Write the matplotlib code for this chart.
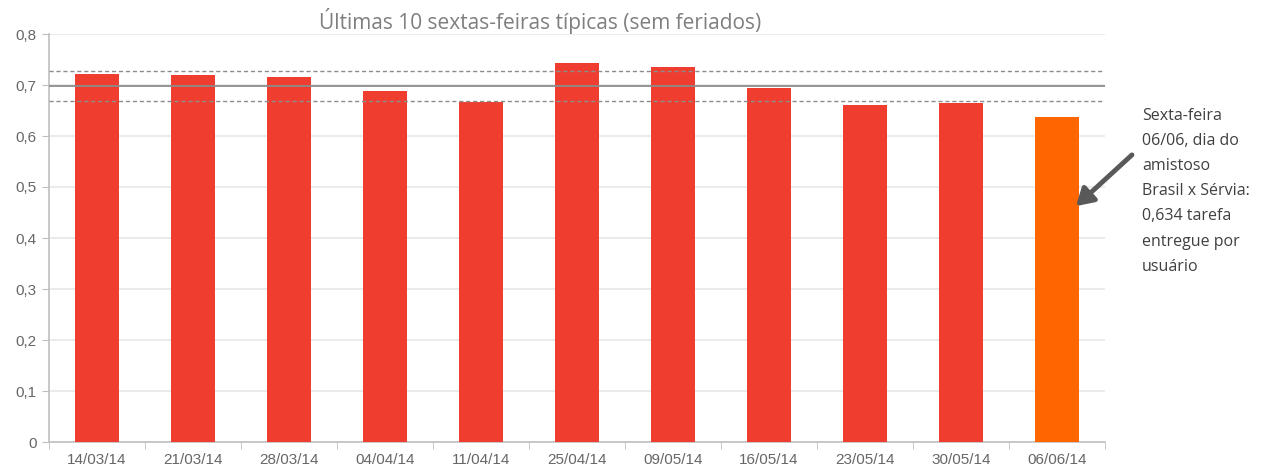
import numpy as np
import matplotlib.pyplot as plt

# Data
datas = ['14/03/14', '21/03/14', '28/03/14', '04/04/14', '11/04/14',
         '25/04/14', '09/05/14', '16/05/14', '23/05/14', '30/05/14', '06/06/14']
tarefas = [0.722, 0.719, 0.715, 0.688, 0.666, 0.743, 0.735, 0.694, 0.661, 0.665, 0.638]
media = 0.698
limite_sup = 0.727
limite_inf = 0.669
y_ticks = [0, 0.1, 0.2, 0.3, 0.4, 0.5, 0.6, 0.7, 0.8]

cor_barra = '#EF3D2F'
cor_destaque = '#FF6600'

fig = plt.figure(figsize=(12.69, 4.69), dpi=100)
ax = fig.add_axes([49 / 1269, 27 / 469, 1056 / 1269, 408 / 469])

x = np.arange(len(datas))
cores = [cor_barra] * (len(datas) - 1) + [cor_destaque]
ax.bar(x, tarefas, width=0.45, color=cores, zorder=3)

# media e faixa
ax.axhline(media, color='#8C8C8C', linewidth=1.3, zorder=4)
ax.axhline(limite_sup, color='#8C8C8C', linewidth=1, linestyle=(0, (3, 2)), zorder=4)
ax.axhline(limite_inf, color='#8C8C8C', linewidth=1, linestyle=(0, (3, 2)), zorder=4)

ax.set_xlim(-0.5, len(datas) - 0.5)
ax.set_ylim(0, 0.8)
ax.set_yticks(y_ticks)
ax.set_yticklabels([('%g' % v).replace('.', ',') for v in y_ticks],
                   fontfamily='Liberation Sans', fontsize=11, color='#666666')
ax.yaxis.grid(True, color='#E8E8E8', linewidth=1.2, zorder=0)

ax.set_xticks(x)
ax.set_xticklabels(datas, fontfamily='Liberation Sans', fontsize=11, color='#666666')
ax.tick_params(axis='x', length=0, pad=8)
ax.set_xticks(np.arange(-0.5, len(datas), 1), minor=True)
ax.tick_params(axis='x', which='minor', length=5, color='#BFBFBF', direction='out')
ax.tick_params(axis='y', length=5, color='#BFBFBF', pad=4)

for lado in ['top', 'right']:
    ax.spines[lado].set_visible(False)
ax.spines['left'].set_color('#BFBFBF')
ax.spines['bottom'].set_color('#BFBFBF')
ax.spines['left'].set_linewidth(1.2)
ax.spines['bottom'].set_linewidth(1.2)

fig.text(540 / 1269, 1 - 21 / 469, 'Últimas 10 sextas-feiras típicas (sem feriados)',
         ha='center', va='center', fontfamily='Open Sans', fontsize=15, color='#7F7F7F')

fig.text(1142 / 1269, 1 - 108 / 469,
         'Sexta-feira\n06/06, dia do\namistoso\nBrasil x Sérvia:\n0,634 tarefa\nentregue por\nusuário',
         ha='left', va='top', fontfamily='Open Sans', fontsize=11.5, color='#404040',
         linespacing=1.76)

ax.annotate('', xy=(1074 / 1269, 1 - 208 / 469), xycoords='figure fraction',
            xytext=(1134 / 1269, 1 - 153 / 469), textcoords='figure fraction',
            arrowprops=dict(arrowstyle='-|>,head_length=1.0,head_width=0.6',
                            color='#595959', linewidth=3.5),
            annotation_clip=False)

fig.savefig('out.png', dpi=100)
